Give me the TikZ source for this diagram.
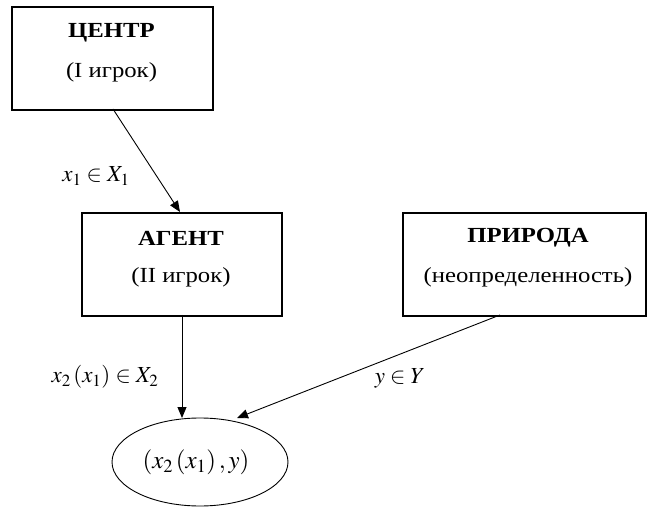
\documentclass[tikz,border=0pt]{standalone}
\usepackage{mathptmx}
\usepackage{fontspec}
\setmainfont[FakeStretch=1.15]{Liberation Serif}
\usetikzlibrary{arrows.meta,shapes.geometric}
\tikzset{
  box/.style={draw,line width=2.2pt,inner sep=0pt,anchor=north west},
  ttl/.style={font=\fontsize{21.5}{26}\selectfont\bfseries,inner sep=0pt},
  sub/.style={font=\fontsize{21.5}{26}\selectfont,inner sep=0pt},
  lbl/.style={font=\fontsize{23}{27}\selectfont,inner sep=0pt},
  conn/.style={line width=0.9pt,-{Triangle[length=11pt,width=9pt]}},
}
\begin{document}
\begin{tikzpicture}[x=1pt,y=-1pt]
\useasboundingbox (0,0) rectangle (649,508);
% boxes
\node[box,minimum width=201pt,minimum height=103pt] (c) at (11,6) {};
\node[box,minimum width=200pt,minimum height=103pt] (a) at (81,212) {};
\node[box,minimum width=243pt,minimum height=103pt] (p) at (402,212) {};
\node[ttl] (ct) at (111.5,33) {ЦЕНТР};
\node[sub] (cs) at (111.5,72) {(I игрок)};
\node[ttl] (at) at (181,238) {АГЕНТ};
\node[sub] (as) at (181,277) {(II игрок)};
\node[ttl] (pt) at (528,238) {ПРИРОДА};
\node[sub] (ps) at (528,277) {(неопределенность)};
% ellipse
\node[draw,ellipse,line width=0.9pt,minimum width=176pt,minimum height=88pt,inner sep=0pt] (e) at (200,462) {};
\node[font=\fontsize{25}{30}\selectfont,inner sep=0pt] (et) at (196,462) {$\left(x_2\left(x_1\right),y\right)$};
% connectors
\coordinate (c1) at (113,109);
\coordinate (a1) at (180,212);
\coordinate (a2) at (182,315);
\coordinate (e1) at (182,418);
\coordinate (p1) at (500,315);
\coordinate (e2) at (237,418);
\draw[conn] (c1) -- (a1);
\draw[conn] (a2) -- (e1);
\draw[conn] (p1) -- (e2);
% labels
\node[lbl] (l1) at (96,176) {$x_1\in X_1$};
\node[lbl] (l2) at (105,377) {$x_2\left(x_1\right)\in X_2$};
\node[lbl] (l3) at (400,378) {$y\in Y$};
\end{tikzpicture}
\end{document}
